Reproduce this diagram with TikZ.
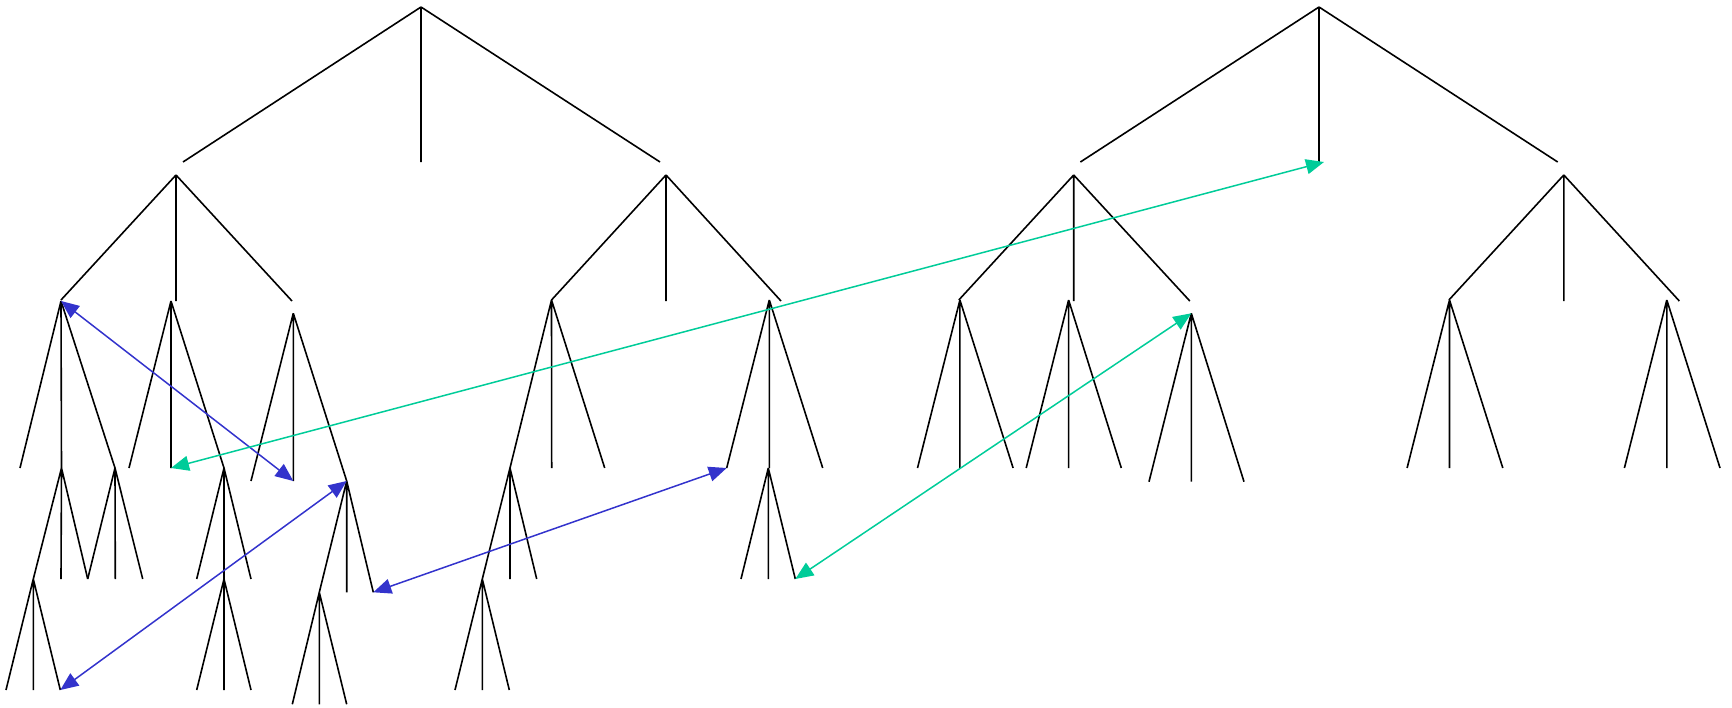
\documentclass[tikz,border=0pt]{standalone}
\usetikzlibrary{arrows.meta}
\definecolor{arrblue}{RGB}{51,51,204}
\definecolor{arrgreen}{RGB}{0,204,153}
\newcommand{\trib}[4]{\draw[treeline] (#1) -- (#2) (#1) -- (#3) (#1) -- (#4);}
\begin{document}
\begin{tikzpicture}[x=1pt,y=-1pt,
  treeline/.style={line width=1.6pt,black},
  arrtip/.tip={Triangle[angle'=50,length=18pt,width=15pt]},
  bluearr/.style={line width=1.5pt,draw=arrblue,arrtip-arrtip},
  greenarr/.style={line width=1.5pt,draw=arrgreen,arrtip-arrtip}]
\useasboundingbox (0,0) rectangle (1732,707);
% ---------- left tree ----------
\coordinate (R1) at (421,7);
\coordinate (R1l) at (183,162);
\coordinate (R1m) at (421,162);
\coordinate (R1r) at (660,162);
\trib{R1}{R1l}{R1m}{R1r}
% subtree A
\coordinate (A) at (176,175);
\coordinate (Al) at (61,300);
\coordinate (Am) at (176,301);
\coordinate (Ar) at (292,301);
\trib{A}{Al}{Am}{Ar}
% A1
\coordinate (A1) at (61,301);
\coordinate (A1l) at (20,468);
\coordinate (A1m) at (61.5,468);
\coordinate (A1r) at (115,468);
\trib{A1}{A1l}{A1m}{A1r}
\coordinate (A1ml) at (33.3,579);
\coordinate (A1mm) at (61,579);
\coordinate (A1mr) at (87.7,579);
\trib{A1m}{A1ml}{A1mm}{A1mr}
\coordinate (A1mll) at (6,690);
\coordinate (A1mlm) at (33.3,690);
\coordinate (A1mlr) at (60.3,690);
\trib{A1ml}{A1mll}{A1mlm}{A1mlr}
\coordinate (A1rl) at (87.7,579);
\coordinate (A1rm) at (115.3,579);
\coordinate (A1rr) at (142.7,579);
\trib{A1r}{A1rl}{A1rm}{A1rr}
% A2
\coordinate (A2) at (171,301);
\coordinate (A2l) at (129,468);
\coordinate (A2m) at (171,468);
\coordinate (A2r) at (224,468);
\trib{A2}{A2l}{A2m}{A2r}
\coordinate (A2rl) at (196.7,579);
\coordinate (A2rm) at (224,579);
\coordinate (A2rr) at (251,579);
\trib{A2r}{A2rl}{A2rm}{A2rr}
\coordinate (A2rml) at (196.7,690);
\coordinate (A2rmm) at (224,690);
\coordinate (A2rmr) at (251,690);
\trib{A2rm}{A2rml}{A2rmm}{A2rmr}
% A3
\coordinate (A3) at (293.3,313.3);
\coordinate (A3l) at (251,481);
\coordinate (A3m) at (293.3,481);
\coordinate (A3r) at (346.7,481);
\trib{A3}{A3l}{A3m}{A3r}
\coordinate (A3rl) at (319.3,592.3);
\coordinate (A3rm) at (346.7,592.3);
\coordinate (A3rr) at (373.3,592.3);
\trib{A3r}{A3rl}{A3rm}{A3rr}
\coordinate (A3rll) at (292.3,704.3);
\coordinate (A3rlm) at (319.3,704.3);
\coordinate (A3rlr) at (346.7,704.3);
\trib{A3rl}{A3rll}{A3rlm}{A3rlr}
% subtree B
\coordinate (B) at (666,175);
\coordinate (Bl) at (551.5,300);
\coordinate (Bm) at (666,301);
\coordinate (Br) at (781,301);
\trib{B}{Bl}{Bm}{Br}
\coordinate (B1l) at (510,468);
\coordinate (B1m) at (551.7,468);
\coordinate (B1r) at (604.7,468);
\trib{Bl}{B1l}{B1m}{B1r}
\coordinate (B1ll) at (482.3,579);
\coordinate (B1lm) at (510,579);
\coordinate (B1lr) at (536.7,579);
\trib{B1l}{B1ll}{B1lm}{B1lr}
\coordinate (B1lll) at (455,690);
\coordinate (B1llm) at (482.3,690);
\coordinate (B1llr) at (509.3,690);
\trib{B1ll}{B1lll}{B1llm}{B1llr}
\coordinate (B3) at (769.3,300);
\coordinate (B3l) at (726.7,468);
\coordinate (B3m) at (769.3,468);
\coordinate (B3r) at (822.7,468);
\trib{B3}{B3l}{B3m}{B3r}
\coordinate (B3mx) at (768.3,468);
\coordinate (B3ml) at (741,579);
\coordinate (B3mm) at (768.3,579);
\coordinate (B3mr) at (795.3,579);
\trib{B3mx}{B3ml}{B3mm}{B3mr}
% ---------- right tree ----------
\coordinate (R2) at (1319,7);
\coordinate (R2l) at (1080.4,162);
\coordinate (R2m) at (1319,162);
\coordinate (R2r) at (1557.7,162);
\trib{R2}{R2l}{R2m}{R2r}
% subtree C
\coordinate (C) at (1073.7,175);
\coordinate (Cl) at (958.8,300);
\coordinate (Cm) at (1073.7,301);
\coordinate (Cr) at (1189.8,301);
\trib{C}{Cl}{Cm}{Cr}
\coordinate (C1) at (959.9,300);
\coordinate (C1l) at (917.5,468);
\coordinate (C1m) at (959.9,468);
\coordinate (C1r) at (1013.1,468);
\trib{C1}{C1l}{C1m}{C1r}
\coordinate (C2) at (1068.6,300);
\coordinate (C2l) at (1026.2,468);
\coordinate (C2m) at (1068.6,468);
\coordinate (C2r) at (1121.3,468);
\trib{C2}{C2l}{C2m}{C2r}
\coordinate (C3) at (1191.3,313.3);
\coordinate (C3l) at (1149,481.7);
\coordinate (C3m) at (1191.3,481.7);
\coordinate (C3r) at (1244,481.7);
\trib{C3}{C3l}{C3m}{C3r}
% subtree D
\coordinate (D) at (1563.8,175);
\coordinate (Dl) at (1448.9,300);
\coordinate (Dm) at (1563.8,301);
\coordinate (Dr) at (1679.3,301);
\trib{D}{Dl}{Dm}{Dr}
\coordinate (D1) at (1449.5,300);
\coordinate (D1l) at (1407.1,468);
\coordinate (D1m) at (1449.5,468);
\coordinate (D1r) at (1502.8,468);
\trib{D1}{D1l}{D1m}{D1r}
\coordinate (D3) at (1666.8,300);
\coordinate (D3l) at (1624.4,468);
\coordinate (D3m) at (1666.8,468);
\coordinate (D3r) at (1720,468);
\trib{D3}{D3l}{D3m}{D3r}
% ---------- arrows ----------
\coordinate (R2mtip) at (1324,162);
\draw[bluearr] (A1) -- (A3m);
\draw[bluearr] (A1mlr) -- (A3r);
\draw[bluearr] (A3rr) -- (B3l);
\draw[greenarr] (A2m) -- (R2mtip);
\draw[greenarr] (B3mr) -- (C3);
\end{tikzpicture}
\end{document}
